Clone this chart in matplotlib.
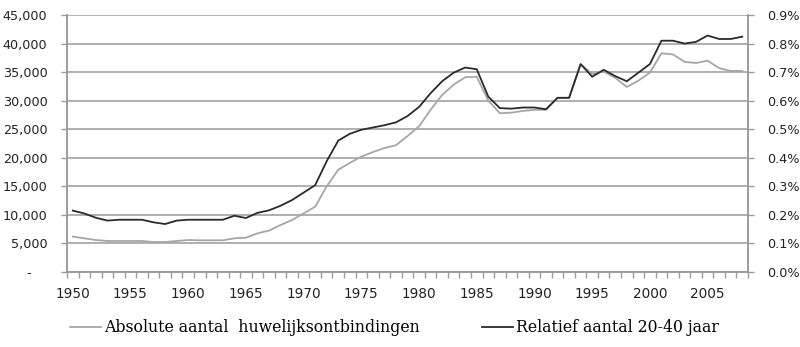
import matplotlib.pyplot as plt
from matplotlib.ticker import FuncFormatter, MultipleLocator
from matplotlib.lines import Line2D

jaren = list(range(1950, 2009))

absoluut = [6200, 5900, 5600, 5430, 5430, 5430, 5430, 5250, 5250, 5430,
            5600, 5550, 5550, 5550, 5900, 6000, 6770, 7250, 8230, 9100,
            10270, 11430, 15000, 17900, 19100, 20200, 21000, 21700, 22200, 23800,
            25500, 28400, 31000, 32800, 34100, 34200, 30000, 27800, 27900, 28200,
            28400, 28400, 30500, 30500, 36400, 34700, 35100, 34000, 32400, 33500,
            34900, 38300, 38100, 36800, 36600, 37000, 35700, 35200, 35200]

relatief = [0.215, 0.205, 0.190, 0.180, 0.183, 0.183, 0.183, 0.174, 0.168, 0.180,
            0.183, 0.183, 0.183, 0.183, 0.197, 0.189, 0.207, 0.216, 0.232, 0.252,
            0.278, 0.304, 0.388, 0.460, 0.484, 0.498, 0.506, 0.514, 0.524, 0.546,
            0.578, 0.626, 0.668, 0.698, 0.716, 0.710, 0.614, 0.574, 0.572, 0.576,
            0.576, 0.570, 0.610, 0.610, 0.728, 0.684, 0.708, 0.686, 0.668, 0.698,
            0.728, 0.810, 0.810, 0.800, 0.806, 0.828, 0.816, 0.816, 0.824]

label_abs = "Absolute aantal  huwelijksontbindingen"
label_rel = "Relatief aantal 20-40 jaar"

grijs = "#a6a6a6"
zwart = "#2a2a2a"
as_kleur = "#9a9a9a"
tekst = "#222222"

fig = plt.figure(figsize=(8, 3.47), dpi=100)
ax = fig.add_axes([67/800, 75/347, 681/800, 257/347])
ax2 = ax.twinx()

ax.plot(jaren, absoluut, color=grijs, lw=1.3, zorder=3)
ax2.plot(jaren, relatief, color=zwart, lw=1.3, zorder=3)

ax.set_xlim(1949.5, 2008.5)
ax.set_ylim(0, 45000)
ax2.set_ylim(0, 0.9)

ax.yaxis.set_major_locator(MultipleLocator(5000))
ax2.yaxis.set_major_locator(MultipleLocator(0.1))
ax.yaxis.set_major_formatter(FuncFormatter(lambda v, p: "-    " if v == 0 else f"{v:,.0f}"))
ax2.yaxis.set_major_formatter(FuncFormatter(lambda v, p: f"{v:.1f}%"))

ax.grid(axis="y", color=as_kleur, lw=1.1)
ax.set_axisbelow(True)

ax.set_xticks(range(1950, 2009, 5))
ax.set_xticks([j - 0.5 for j in range(1950, 2010)], minor=True)
ax.tick_params(axis="x", which="major", length=0, pad=11, labelsize=9.8, labelcolor=tekst)
ax.tick_params(axis="x", which="minor", length=4, color=as_kleur, width=1)
ax.tick_params(axis="y", length=4, color=as_kleur, width=1, labelsize=9.2, labelcolor=tekst, pad=10)
ax2.tick_params(axis="y", length=4, color=as_kleur, width=1, labelsize=9.2, labelcolor=tekst, pad=10)

for a in (ax, ax2):
    a.spines["top"].set_visible(False)
    for s in ("left", "right", "bottom"):
        a.spines[s].set_color(as_kleur)
        a.spines[s].set_linewidth(1.1)

lettertype = {"family": "DejaVu Serif", "size": 11.3}
leg1 = fig.legend([Line2D([], [], color=grijs, lw=1.3)], [label_abs], loc="center left",
                  bbox_to_anchor=(62/800, 19/347), frameon=False, prop=lettertype,
                  handlelength=2.0, handletextpad=0.2, borderpad=0)
leg2 = fig.legend([Line2D([], [], color=zwart, lw=1.3)], [label_rel], loc="center left",
                  bbox_to_anchor=(474/800, 19/347), frameon=False, prop=lettertype,
                  handlelength=2.0, handletextpad=0.2, borderpad=0)

fig.savefig("out.png", dpi=100)
